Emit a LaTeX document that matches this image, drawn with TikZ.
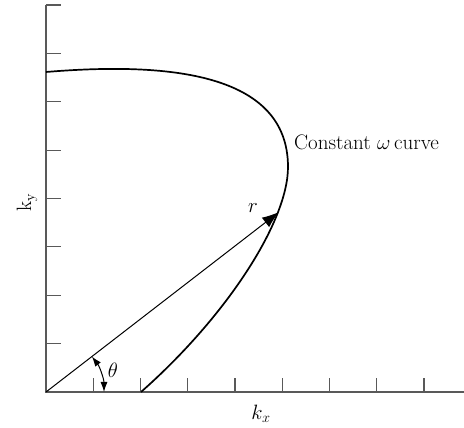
\documentclass[tikz,border=0pt]{standalone}
\usepackage{tikz}
\usetikzlibrary{arrows.meta}
\definecolor{axisgray}{gray}{0.35}
\tikzset{
  axis/.style={draw=axisgray, line width=1.4pt},
  tick/.style={draw=axisgray, line width=1.1pt},
  wcurve/.style={draw=black, line width=1.7pt},                       % constant omega curve
  vec/.style={draw=black, line width=1pt, -{Latex[length=17pt,width=12pt]}},
  ang/.style={draw=black, line width=1pt,
              {Latex[length=10pt,width=7pt]}-{Latex[length=10pt,width=7pt]}},
  lbl/.style={font=\fontsize{21}{25}\selectfont, inner sep=0pt},
}
\begin{document}
\begin{tikzpicture}[x=1pt,y=1pt]
  \useasboundingbox (-46,-36) rectangle (418,392);
  \coordinate (o) at (0,0);
  \coordinate (xend) at (418,0);
  \coordinate (yend) at (0,387);
  \draw[axis] (xend) -- (o) -- (yend);
  \foreach \i in {1,...,8} \draw[tick] (0,\i*48.375) -- ++(15,0);
  \foreach \i in {1,...,8} \draw[tick] (\i*47.25,0) -- ++(0,14);
  % the curve, two pieces meeting at its right-most point
  \draw[wcurve] (0,320) .. controls (120,330) and (242,320) .. (242,225)
                        .. controls (242,170) and (180,75) .. (95,0);
  \coordinate (rt) at (233,180);
  \draw[vec] (o) -- (rt);
  \draw[ang] (58,0) arc[start angle=0, end angle=37.7, radius=58];
  \node[lbl] (r) at (207,184) {$r$};
  \node[lbl] (th) at (67,22) {$\theta$};
  \node[lbl, anchor=west] (cw) at (248,250) {Constant $\omega$\,curve};
  \node[lbl] (kx) at (215,-22) {$k_x$};
  \node[lbl, rotate=90] (ky) at (-19,190) {$\mathrm{k}_{\mathrm{y}}$};
\end{tikzpicture}
\end{document}
